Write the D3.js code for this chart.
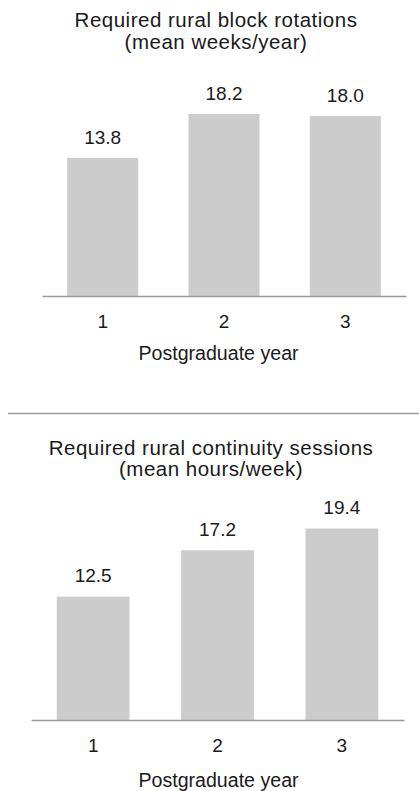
<!DOCTYPE html>
<html>
<head>
<meta charset="utf-8">
<script src="https://cdn.jsdelivr.net/npm/d3@7"></script>
<style>
  html, body { margin: 0; padding: 0; background: #fff; }
  svg { display: block; }
  text { font-family: "Liberation Sans", Arial, Helvetica, sans-serif; fill: #1a1a1a; }
</style>
</head>
<body>
<svg id="chart" width="419" height="791"></svg>
<script>
// Postgraduate years on the x axis
const years = ["1", "2", "3"];
// Mean weeks per year spent in required rural block rotations
const blockWeeks = [13.8, 18.2, 18.0];
// Mean hours per week spent in required rural continuity sessions
const continuityHours = [12.5, 17.2, 19.4];
const blockTitle = ["Required rural block rotations", "(mean weeks/year)"];
const continuityTitle = ["Required rural continuity sessions", "(mean hours/week)"];
const xAxisLabel = "Postgraduate year";

const svg = d3.select("#chart");
const barColor = "#cccccc";
const axisColor = "#9a9a9a";

function panel(cfg) {
  const g = svg.append("g");
  const x = d3.scaleBand()
    .domain(years)
    .range([cfg.x0, cfg.x1])
    .paddingInner(0.415)
    .paddingOuter(0.2075);
  const y = d3.scaleLinear()
    .domain([0, 20])
    .range([cfg.base, cfg.base - 20 * cfg.unit]);

  // title, two lines
  g.selectAll("text.title")
    .data(cfg.title)
    .join("text")
    .attr("class", "title")
    .attr("x", cfg.titleX)
    .attr("y", (d, i) => cfg.titleY + i * cfg.titleGap)
    .attr("text-anchor", "middle")
    .style("font-size", "20.5px")
    .style("letter-spacing", "0.5px")
    .text(d => d);

  // bars
  g.selectAll("rect.bar")
    .data(cfg.values)
    .join("rect")
    .attr("class", "bar")
    .attr("x", (d, i) => x(years[i]))
    .attr("width", x.bandwidth())
    .attr("y", d => y(d))
    .attr("height", d => y(0) - y(d))
    .attr("fill", barColor);

  // value labels above bars
  g.selectAll("text.value")
    .data(cfg.values)
    .join("text")
    .attr("class", "value")
    .attr("x", (d, i) => x(years[i]) + x.bandwidth() / 2)
    .attr("y", d => y(d) - 14.5)
    .attr("text-anchor", "middle")
    .style("font-size", "19px")
    .text(d => d.toFixed(1));

  // category axis
  const axis = g.append("g")
    .attr("transform", `translate(0,${cfg.base})`)
    .call(d3.axisBottom(x).tickSize(0).tickSizeOuter(0).tickPadding(19));
  axis.select(".domain").attr("stroke", axisColor).attr("stroke-width", 1.6);
  axis.selectAll(".tick text")
    .style("font-size", "19px")
    .style("font-family", "'Liberation Sans', Arial, sans-serif")
    .attr("fill", "#1a1a1a");

  g.append("text")
    .attr("x", 218.5)
    .attr("y", cfg.base + cfg.labelOffset)
    .attr("text-anchor", "middle")
    .style("font-size", "19.6px")
    .text(xAxisLabel);
}

panel({
  title: blockTitle, titleX: 216, titleY: 26.5, titleGap: 22.5,
  values: blockWeeks, x0: 42, x1: 406, base: 296, unit: 10, labelOffset: 64
});

// divider between the two charts
svg.append("line")
  .attr("x1", 8).attr("x2", 419)
  .attr("y1", 413.5).attr("y2", 413.5)
  .attr("stroke", axisColor)
  .attr("stroke-width", 1.6);

panel({
  title: continuityTitle, titleX: 211, titleY: 454.5, titleGap: 21.5,
  values: continuityHours, x0: 31, x1: 404, base: 720, unit: 9.87, labelOffset: 67
});
</script>
</body>
</html>
